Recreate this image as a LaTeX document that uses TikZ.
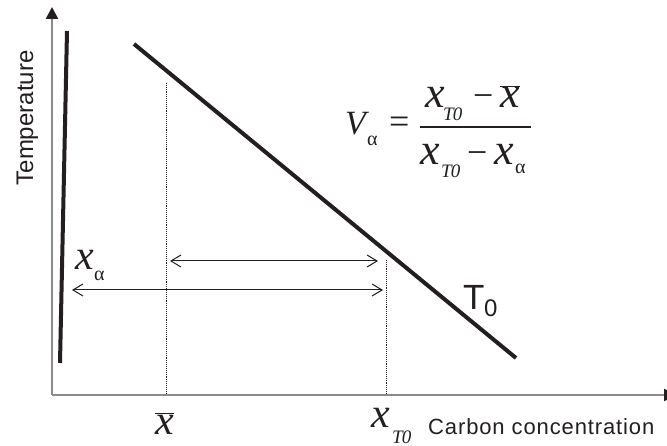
\documentclass[tikz,border=0pt]{standalone}
\usepackage{fontspec}
\setmainfont{Liberation Serif}
\newfontfamily\labelsans{Liberation Sans}
\usetikzlibrary{arrows.meta}
\definecolor{ink}{HTML}{231F20}
\definecolor{axisgrey}{HTML}{8A8A8A}
\begin{document}
\begin{tikzpicture}[x=1pt,y=-1pt,
  axisline/.style={draw=axisgrey,line width=2.5pt},
  axistip/.style={-{Triangle[length=12pt,width=12pt,fill=ink,color=ink]}},
  thickline/.style={draw=ink,line width=4pt},
  guide/.style={draw=ink,line width=0.9pt,densely dotted},
  dimline/.style={draw=ink,line width=1pt,{Straight Barb[length=10pt,width=12pt]}-{Straight Barb[length=10pt,width=12pt]}},
  txt/.style={inner sep=0pt,anchor=base west,text=ink},
  bigx/.style={txt,font=\fontsize{44}{44}\selectfont\itshape},
  labx/.style={txt,font=\fontsize{42}{42}\selectfont\itshape},
  subT/.style={txt,font=\fontsize{19}{19}\selectfont\itshape},
  suba/.style={txt,font=\fontsize{20}{20}\selectfont},
  op/.style={txt,font=\fontsize{36}{36}\selectfont},
  sanslab/.style={inner sep=0pt,text=ink,font=\labelsans\fontsize{24}{24}\selectfont}
]
\useasboundingbox (0,0) rectangle (667,446);
\fill[white] (0,0) rectangle (667,446);

% axes
\coordinate (o) at (52,395);
\coordinate (ytop) at (52,7);
\coordinate (xend) at (676,395);
\draw[axisline,axistip] (o) -- (ytop);
\draw[axisline,axistip] (o) -- (xend);

% phase lines
\coordinate (s1) at (67,31);
\coordinate (s2) at (60,363);
\draw[thickline] (s1) -- (s2);
\coordinate (t1) at (134,44);
\coordinate (t2) at (516,358);
\draw[thickline] (t1) -- (t2);

% guide lines
\coordinate (g1a) at (166.5,83);
\coordinate (g1b) at (166.5,394);
\coordinate (g2a) at (386.5,260);
\coordinate (g2b) at (386.5,394);
\draw[guide] (g1a) -- (g1b);
\draw[guide] (g2a) -- (g2b);

% dimension arrows
\coordinate (d1a) at (170,261);
\coordinate (d1b) at (378,261);
\coordinate (d2a) at (72,290);
\coordinate (d2b) at (383,290);
\draw[dimline] (d1a) -- (d1b);
\draw[dimline] (d2a) -- (d2b);

% axis titles
\node[sanslab,rotate=90,anchor=base] (temp) at (33,118) {Temperature};
\node[sanslab,anchor=base west,font=\labelsans\fontsize{22}{22}\selectfont\addfontfeature{LetterSpace=4}] (carb) at (428,435) {Carbon concentration};

% T0 label
\node[txt,font=\labelsans\fontsize{35}{35}\selectfont] (tlab) at (463,310) {T};
\node[txt,font=\labelsans\fontsize{24}{24}\selectfont] (tsub) at (484,317) {0};

% x_alpha label
\node[labx] (xa) at (75,270) {x};
\node[suba] (xasub) at (94,281) {α};

% bottom labels
\node[labx] (xbar) at (155,434) {$\overline{\mbox{\itshape x}}$};
\node[labx] (xt) at (371,428) {x};
\node[subT] (xtsub) at (392,443) {T\kern-1pt0};

% formula
\node[txt,font=\fontsize{34}{34}\selectfont\itshape] (V) at (345,135) {V};
\node[suba] (Vsub) at (367,146) {α};
\node[op] (eq) at (389,134) {=};
\coordinate (fb1) at (420,127);
\coordinate (fb2) at (531,127);
\draw[ink,line width=1.3pt] (fb1) -- (fb2);
\node[bigx] (n1) at (425,108) {x};
\node[subT] (n1s) at (443,121) {T\kern-1pt0};
\node[op] (nm) at (473,108) {−};
\node[bigx] (n2) at (500,108) {$\overline{\mbox{\itshape x}}$};
\node[bigx] (d1) at (420,165) {x};
\node[subT] (d1s) at (441,178) {T\kern-1pt0};
\node[op] (dm) at (467,165) {−};
\node[bigx] (d2) at (494,165) {x};
\node[suba] (d2s) at (515,174) {α};
\end{tikzpicture}
\end{document}
